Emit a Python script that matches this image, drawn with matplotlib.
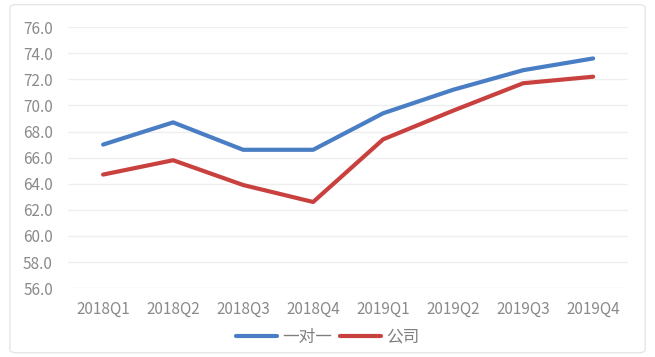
import matplotlib.pyplot as plt
from matplotlib.patches import FancyBboxPatch

plt.rcParams['font.family'] = ['Noto Sans CJK SC', 'DejaVu Sans']

quarters = ['2018Q1', '2018Q2', '2018Q3', '2018Q4',
            '2019Q1', '2019Q2', '2019Q3', '2019Q4']
one_to_one = [67.0, 68.7, 66.6, 66.6, 69.4, 71.2, 72.7, 73.6]
company = [64.7, 65.8, 63.9, 62.6, 67.4, 69.6, 71.7, 72.2]
y_ticks = [56, 58, 60, 62, 64, 66, 68, 70, 72, 74, 76]

fig = plt.figure(figsize=(6.55, 3.57), dpi=100)

# light rounded frame around the whole chart (behind the axes)
frame = FancyBboxPatch((0.015, 0.012), 0.97, 0.975, boxstyle='round,pad=0,rounding_size=0.01',
                       transform=fig.transFigure, facecolor='white',
                       edgecolor='#e6e6e6', linewidth=1.0, zorder=-10)
fig.patches.append(frame)

ax = fig.add_axes([0.104, 0.193, 0.855, 0.731])
ax.set_facecolor('none')

x = range(len(quarters))
ax.plot(x, one_to_one, color='#4a7ec4', linewidth=3, label='一对一',
        solid_capstyle='round', clip_on=False)
ax.plot(x, company, color='#c9413f', linewidth=3, label='公司',
        solid_capstyle='round', clip_on=False)

ax.set_xlim(-0.5, len(quarters) - 0.5)
ax.set_ylim(56, 76)
ax.set_yticks(y_ticks)
ax.set_yticklabels([f'{v:.1f}' for v in y_ticks])
ax.set_xticks(list(x))
ax.set_xticklabels(quarters)

ax.grid(axis='y', color='#efefef', linewidth=1)
ax.set_axisbelow(True)
for side in ['top', 'right', 'left', 'bottom']:
    ax.spines[side].set_visible(False)
ax.tick_params(axis='both', length=0, labelsize=11, labelcolor='#8a8a8a')
ax.tick_params(axis='y', pad=11)
ax.tick_params(axis='x', pad=9)

# legend centred on the figure, just below the category labels
fig.legend(loc='center', bbox_to_anchor=(0.5, 0.055), ncol=2, frameon=False,
           fontsize=12, labelcolor='#7f7f7f', handlelength=2.45, handletextpad=0.3,
           columnspacing=0.5)

fig.savefig('out.png', dpi=100)
